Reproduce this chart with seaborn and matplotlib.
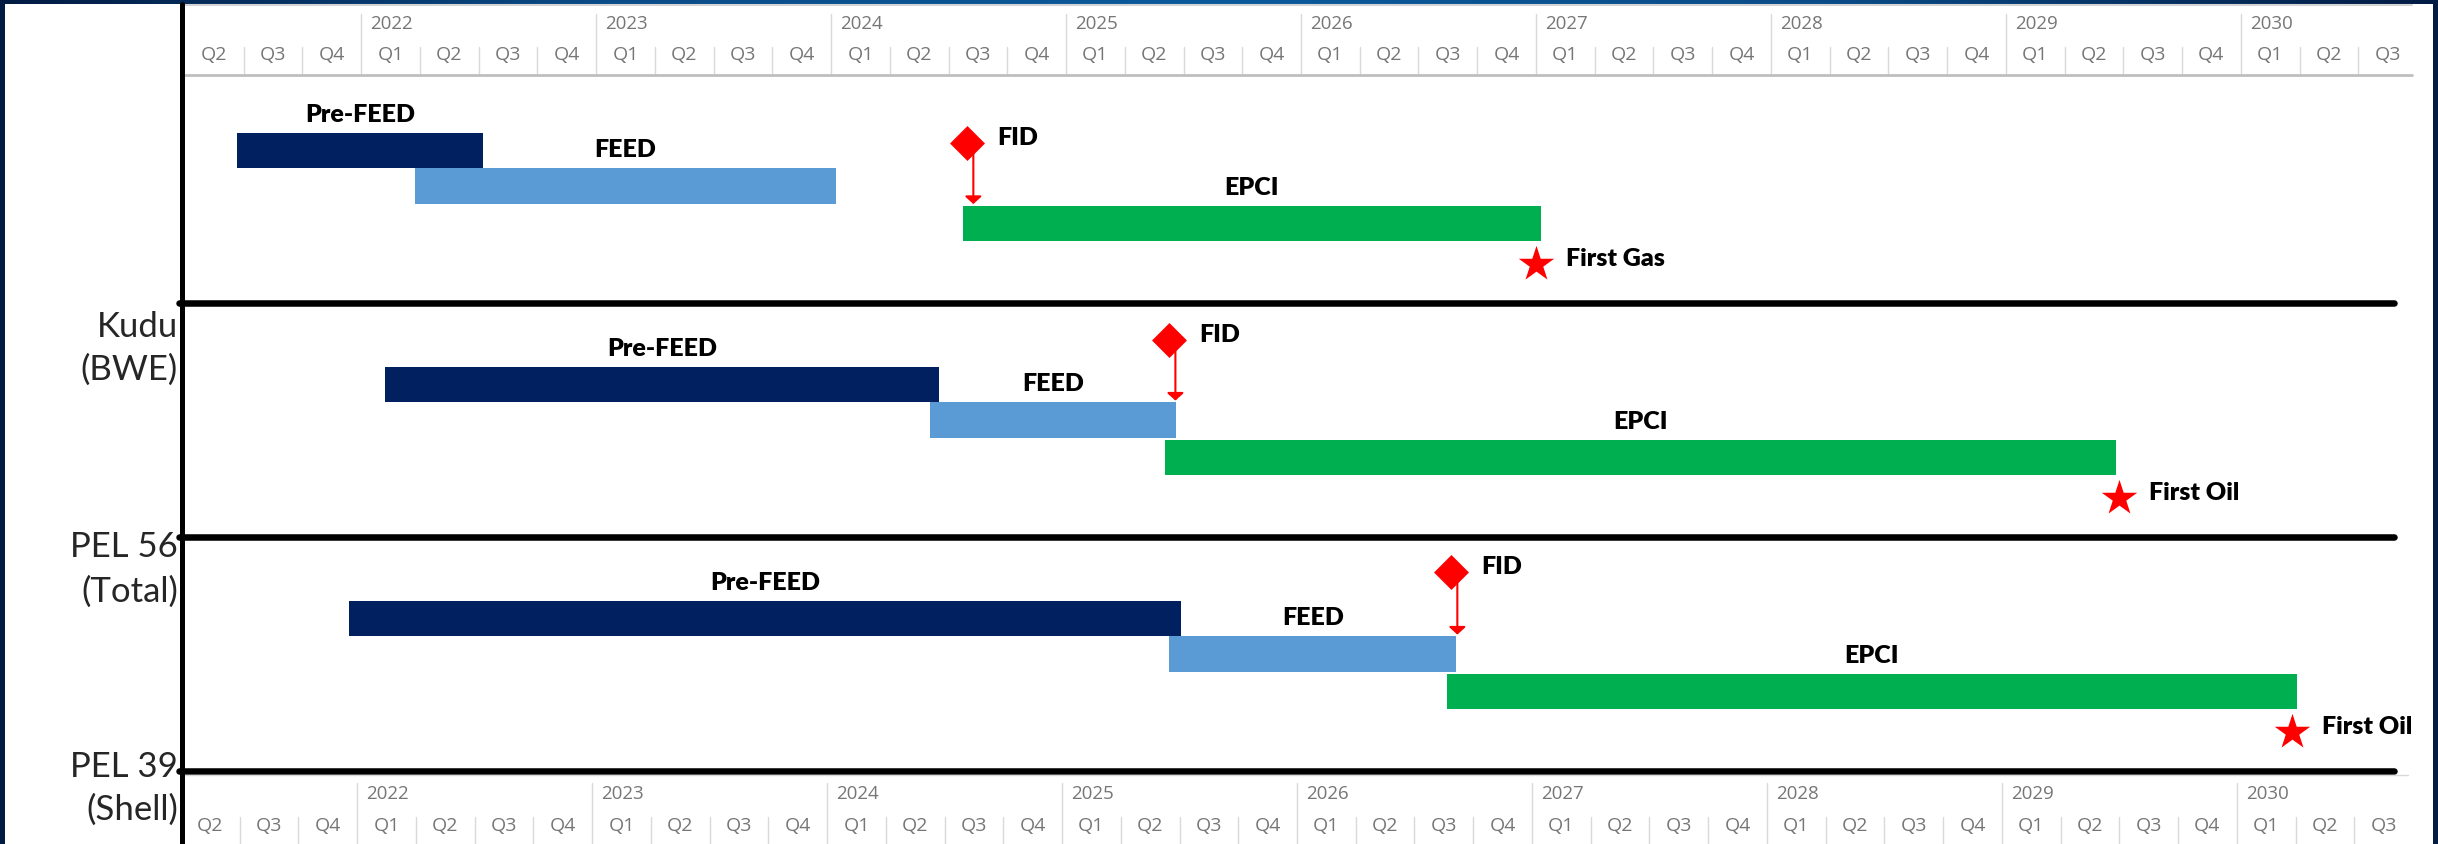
import matplotlib
matplotlib.use("Agg")
import numpy as np
import pandas as pd
import matplotlib.pyplot as plt
import matplotlib.transforms as mtransforms
from matplotlib.patches import Rectangle
from matplotlib.lines import Line2D
from matplotlib.colors import LinearSegmentedColormap
import seaborn as sns

# ---------------- data ----------------
project_names = ["Kudu", "PEL 56", "PEL 39"]
project_owners = ["(BWE)", "(Total)", "(Shell)"]

# phase windows, in fractional years
prefeed_start = [2021.47, 2022.10, 2021.95]
prefeed_end = [2022.52, 2024.46, 2025.49]
feed_start = [2022.23, 2024.42, 2025.44]
feed_end = [2024.02, 2025.47, 2026.66]
epci_start = [2024.56, 2025.42, 2026.62]
epci_end = [2027.02, 2029.47, 2030.24]

# milestones
fid_date = [2024.58, 2025.44, 2026.64]
first_prod_date = [2027.00, 2029.48, 2030.22]
first_prod_label = ["First Gas", "First Oil", "First Oil"]

# time axis
timeline_start, timeline_end = 2021.25, 2030.75
year_labels = ["2022", "2023", "2024", "2025", "2026", "2027", "2028", "2029", "2030"]
quarter_labels = ["Q1", "Q2", "Q3", "Q4"]

# ---------------- styling / layout ----------------
PHASE_COLORS = {"Pre-FEED": "#002060", "FEED": "#5B9BD5", "EPCI": "#00B050"}
LANE = {"Pre-FEED": 0.35, "FEED": 0.50, "EPCI": 0.66}
MILESTONE_LANE = 0.835
BAR_H = 0.15
FID_LEVEL = [0.315, 0.16, 0.15]
FID_ARROW_TO = ["EPCI", "FEED", "FEED"]
LABEL_WEIGHT = "heavy"

NAVY = "#021B43"
GRID_GREY = "#d9d9d9"
AXIS_TEXT = "#767676"

sns.set_theme(style="white")
plt.rcParams["font.family"] = ["Lato", "DejaVu Sans"]

W, H = 2438, 844
fig = plt.figure(figsize=(W / 100, H / 100), dpi=100)
fig.patch.set_facecolor(NAVY)

# white slide panel and thin gradient band on top
fig.add_artist(Rectangle((5 / W, 0), (2433 - 5) / W, (H - 4) / H,
                         transform=fig.transFigure, facecolor="white",
                         edgecolor="none", zorder=-10))
band = fig.add_axes([0, 1 - 4 / H, 1, 4 / H])
band_cmap = LinearSegmentedColormap.from_list(
    "band", [NAVY, "#0A4C88", "#0B5A9C", "#0A4C88", NAVY])
band.imshow(np.linspace(0, 1, 512)[None, :], aspect="auto", cmap=band_cmap)
band.axis("off")

# ---------------- main gantt axes ----------------
ax = fig.add_axes([185 / W, 1 - 771 / H, 2232 / W, 702 / H])
ax.patch.set_alpha(0)

rows = []
for i in range(len(project_names)):
    rows.append((i, "Pre-FEED", prefeed_start[i], prefeed_end[i]))
    rows.append((i, "FEED", feed_start[i], feed_end[i]))
    rows.append((i, "EPCI", epci_start[i], epci_end[i]))
bars = pd.DataFrame(rows, columns=["project", "phase", "start", "end"])
bars["y"] = bars["project"] + bars["phase"].map(LANE)
bars["mid"] = (bars["start"] + bars["end"]) / 2

for _, r in bars.iterrows():
    ax.barh(r["y"], r["end"] - r["start"], left=r["start"], height=BAR_H,
            color=PHASE_COLORS[r["phase"]], edgecolor="none", zorder=3)
    ax.annotate(r["phase"], xy=(r["mid"], r["y"] - BAR_H / 2),
                xytext=(0, 8), textcoords="offset points",
                ha="center", va="baseline", fontsize=18, fontweight=LABEL_WEIGHT,
                color="black", zorder=6)

# FID arrows (slightly right of the diamond centre)
shifted = mtransforms.offset_copy(ax.transData, fig=fig, x=4.3, y=0, units="points")
for i in range(len(project_names)):
    target_y = i + LANE[FID_ARROW_TO[i]] - BAR_H / 2 - 0.008
    ax.annotate("", xy=(fid_date[i], target_y), xytext=(fid_date[i], i + FID_LEVEL[i]),
                xycoords=shifted, textcoords=shifted,
                arrowprops=dict(arrowstyle="-|>,head_length=0.45,head_width=0.5",
                                color="red", lw=1.5, shrinkA=0, shrinkB=0,
                                mutation_scale=10),
                zorder=4)

fid_df = pd.DataFrame({"date": fid_date,
                       "level": [i + FID_LEVEL[i] for i in range(len(fid_date))]})
prod_df = pd.DataFrame({"date": first_prod_date,
                        "level": [i + MILESTONE_LANE for i in range(len(first_prod_date))],
                        "label": first_prod_label})

sns.scatterplot(data=fid_df, x="date", y="level", marker="D", s=317, color="red",
                linewidth=0, ax=ax, legend=False, zorder=5, clip_on=False)
sns.scatterplot(data=prod_df, x="date", y="level", marker="*", s=720, color="red",
                linewidth=0, ax=ax, legend=False, zorder=5, clip_on=False)
ax.set_xlim(timeline_start, timeline_end)
ax.set_ylim(3, 0)
ax.axis("off")

for _, r in fid_df.iterrows():
    ax.annotate("FID", xy=(r["date"], r["level"]), xytext=(21.6, -1.4),
                textcoords="offset points", ha="left", va="baseline",
                fontsize=18, fontweight=LABEL_WEIGHT, color="black", zorder=6)
for _, r in prod_df.iterrows():
    ax.annotate(r["label"], xy=(r["date"], r["level"]), xytext=(21.6, -1.4),
                textcoords="offset points", ha="left", va="baseline",
                fontsize=18, fontweight=LABEL_WEIGHT, color="black", zorder=6)

# thick separators under each project row
ytrans = ax.get_yaxis_transform()
for i in range(len(project_names)):
    ax.plot([-0.0027, 0.9897], [i + 1, i + 1], transform=ytrans, color="black",
            lw=4.7, solid_capstyle="round", clip_on=False, zorder=7)

# left vertical axis line
fig.add_artist(Line2D([181.5 / W, 181.5 / W], [0, 1 - 4 / H], transform=fig.transFigure,
                      color="black", lw=3.6, zorder=20))

# row labels
label_baselines = [(337, 380), (557, 602), (777, 820)]
for name, owner, (b1, b2) in zip(project_names, project_owners, label_baselines):
    fig.text(178 / W, 1 - b1 / H, name, ha="right", va="baseline",
             fontsize=25, color="#262626")
    fig.text(178 / W, 1 - b2 / H, owner, ha="right", va="baseline",
             fontsize=25, color="#262626")


# ---------------- quarter / year headers ----------------
def draw_timeline(hax, year_y, quarter_y, year_top, quarter_top):
    hax.set_xlim(timeline_start, timeline_end)
    hax.set_ylim(0, 1)
    hax.axis("off")
    years = [int(y) for y in year_labels]
    q_starts = np.arange(timeline_start, timeline_end, 0.25)
    for qs in q_starts:
        q_idx = int(round((qs % 1) * 4))
        hax.text(qs + 0.125, quarter_y, quarter_labels[q_idx], ha="center", va="center",
                 fontsize=14, color=AXIS_TEXT, family=["Open Sans", "DejaVu Sans"])
        if qs > timeline_start and q_idx != 0:
            hax.plot([qs, qs], [0, quarter_top], color=GRID_GREY, lw=1, clip_on=False)
    for yr, lab in zip(years, year_labels):
        hax.plot([yr, yr], [0, year_top], color=GRID_GREY, lw=1, clip_on=False)
        hax.annotate(lab, xy=(yr, year_y), xytext=(6.5, 0), textcoords="offset points",
                     ha="left", va="center", fontsize=13.5,
                     color=AXIS_TEXT, family=["Open Sans", "DejaVu Sans"])


top_hdr = fig.add_axes([185 / W, 1 - 75 / H, 2232 / W, 70 / H])
draw_timeline(top_hdr, year_y=0.729, quarter_y=0.286, year_top=0.871, quarter_top=0.40)
top_hdr.plot([timeline_start, timeline_end - 0.02], [1, 1], color="#d4d4d4", lw=1.5, clip_on=False)
top_hdr.plot([timeline_start, timeline_end - 0.02], [0, 0], color="#bfbfbf", lw=2, clip_on=False)

bot_hdr = fig.add_axes([181 / W, 0, 2232 / W, 69 / H])
draw_timeline(bot_hdr, year_y=0.725, quarter_y=0.26, year_top=0.884, quarter_top=0.39)
bot_hdr.plot([timeline_start, timeline_end - 0.02], [1, 1], color=GRID_GREY, lw=1, clip_on=False)

fig.savefig("out.png", dpi=100, facecolor=fig.get_facecolor())
